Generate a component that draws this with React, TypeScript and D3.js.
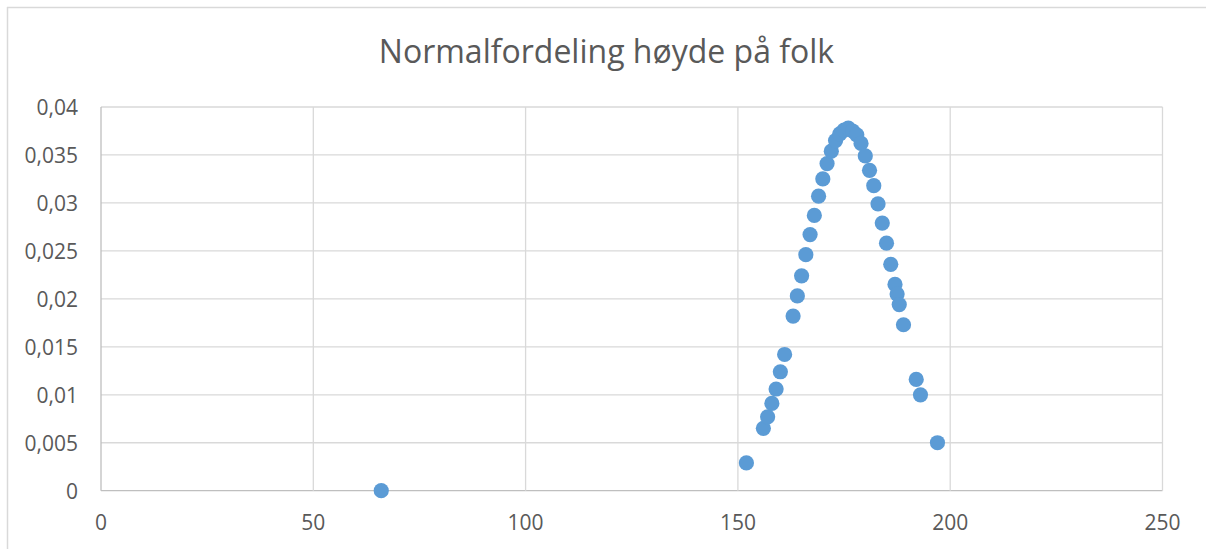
import React from "react";
import * as d3 from "d3";

const TITLE = "Normalfordeling høyde på folk";

const heights: number[] = [
  66, 152, 156, 157, 158, 159, 160, 161, 163, 164, 165, 166, 167, 168, 169,
  170, 171, 172, 173, 174, 175, 176, 177, 178, 179, 180, 181, 182, 183, 184,
  185, 186, 187, 187.5, 188, 189, 192, 193, 197,
];

const densities: number[] = [
  0.0, 0.0029, 0.0065, 0.0077, 0.0091, 0.0106, 0.0124, 0.0142, 0.0182, 0.0203,
  0.0224, 0.0246, 0.0267, 0.0287, 0.0307, 0.0325, 0.0341, 0.0354, 0.0365,
  0.0372, 0.0376, 0.0378, 0.0375, 0.0371, 0.0362, 0.0349, 0.0334, 0.0318,
  0.0299, 0.0279, 0.0258, 0.0236, 0.0215, 0.0205, 0.0194, 0.0173, 0.0116,
  0.0100, 0.0050,
];

const xTicks: number[] = [0, 50, 100, 150, 200, 250];
const yTicks: number[] = [0, 0.005, 0.01, 0.015, 0.02, 0.025, 0.03, 0.035, 0.04];

const W = 1206;
const H = 549;
const plot = { left: 101, right: 1162.5, top: 107, bottom: 490.7 };

const fmtY = (v: number) => (v === 0 ? "0" : String(+v.toFixed(3)).replace(".", ","));

export default function App() {
  const x = d3.scaleLinear().domain([0, 250]).range([plot.left, plot.right]);
  const y = d3.scaleLinear().domain([0, 0.04]).range([plot.bottom, plot.top]);
  const font = "'Open Sans', 'DejaVu Sans', sans-serif";
  const pts = heights.map((h, i) => ({ h, d: densities[i] }));

  return (
    <svg
      width={W}
      height={H}
      style={{ position: "absolute", left: 0, top: 0, background: "#fff" }}
    >
      <rect x={0} y={0} width={W} height={H} fill="#fff" />
      {/* chart border */}
      <line x1={7} y1={7.5} x2={W} y2={7.5} stroke="#d9d9d9" strokeWidth={1.5} />
      <line x1={7.5} y1={7} x2={7.5} y2={H} stroke="#d9d9d9" strokeWidth={1.5} />

      <text
        x={606.5}
        y={63}
        textAnchor="middle"
        fontFamily={font}
        fontSize={32}
        fill="#595959"
      >
        {TITLE}
      </text>

      {/* gridlines */}
      {yTicks.map((t) => (
        <line
          key={"gy" + t}
          x1={plot.left}
          x2={plot.right}
          y1={y(t)}
          y2={y(t)}
          stroke={t === 0 ? "#bfbfbf" : "#d9d9d9"}
          strokeWidth={1.3}
        />
      ))}
      {xTicks.map((t) => (
        <line
          key={"gx" + t}
          x1={x(t)}
          x2={x(t)}
          y1={plot.top}
          y2={plot.bottom}
          stroke={t === 0 ? "#bfbfbf" : "#d9d9d9"}
          strokeWidth={1.3}
        />
      ))}

      {/* y tick labels */}
      {yTicks.map((t) => (
        <text
          key={"ty" + t}
          x={78}
          y={y(t) + 7.8}
          textAnchor="end"
          fontFamily={font}
          fontSize={21}
          fill="#595959"
        >
          {fmtY(t)}
        </text>
      ))}
      {/* x tick labels */}
      {xTicks.map((t) => (
        <text
          key={"tx" + t}
          x={x(t)}
          y={530}
          textAnchor="middle"
          fontFamily={font}
          fontSize={21}
          fill="#595959"
        >
          {t}
        </text>
      ))}

      {/* points */}
      {pts.map((p, i) => (
        <circle key={i} cx={x(p.h)} cy={y(p.d)} r={7.6} fill="#5b9bd5" />
      ))}
    </svg>
  );
}
